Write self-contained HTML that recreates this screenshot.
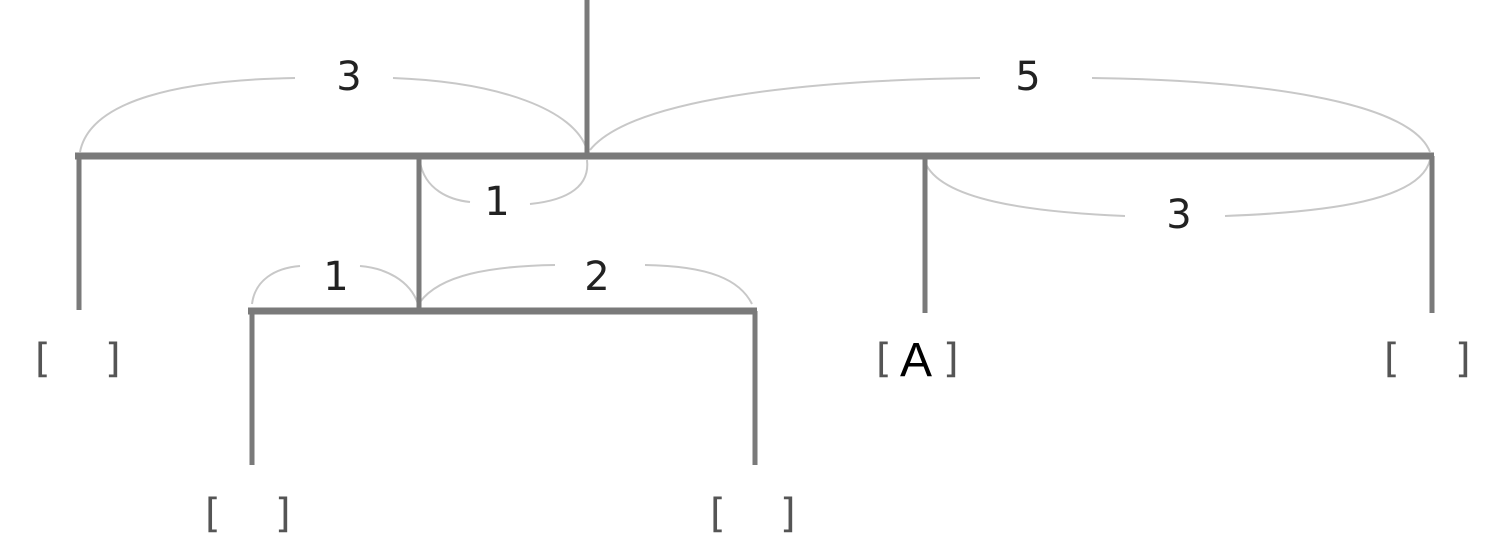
<!DOCTYPE html>
<html><head><style>
html,body{margin:0;padding:0;background:#fff;width:1506px;height:548px;overflow:hidden}
text{font-family:"DejaVu Sans","Liberation Sans",sans-serif;fill:#222}
</style></head><body>
<svg width="1506" height="548" viewBox="0 0 1506 548" xmlns="http://www.w3.org/2000/svg">
<g fill="none" stroke="#c8c8c8" stroke-width="2">
<path d="M80 152 C90 100 180 80 295 78"/>
<path d="M393 78 C500 82 575 110 587 150"/>
<path d="M590 150 C630 100 800 80 980 78"/>
<path d="M1092 78 C1250 80 1410 100 1430 152"/>
<path d="M420 162 C425 190 450 200 470 202"/>
<path d="M530 204 C570 200 590 185 587 160"/>
<path d="M925 162 C940 200 1030 212 1125 216"/>
<path d="M1225 216 C1330 212 1420 200 1430 160"/>
<path d="M252 304 C255 280 275 268 300 266"/>
<path d="M360 266 C385 268 410 280 418 304"/>
<path d="M420 302 C440 275 490 266 555 265"/>
<path d="M645 265 C710 266 740 280 752 304"/>
</g>
<g stroke="#7a7a7a" fill="none">
<line x1="587" y1="0" x2="587" y2="156" stroke-width="5"/>
<line x1="75" y1="156" x2="1434" y2="156" stroke-width="7"/>
<line x1="79" y1="156" x2="79" y2="310" stroke-width="5"/>
<line x1="419" y1="156" x2="419" y2="312" stroke-width="5"/>
<line x1="925" y1="156" x2="925" y2="313" stroke-width="5"/>
<line x1="1432" y1="156" x2="1432" y2="313" stroke-width="5"/>
<line x1="248" y1="311" x2="757" y2="311" stroke-width="7"/>
<line x1="252" y1="311" x2="252" y2="465" stroke-width="5"/>
<line x1="755" y1="311" x2="755" y2="465" stroke-width="5"/>
</g>
<g font-size="40" text-anchor="middle">
<text x="349" y="90">3</text>
<text x="1028" y="90">5</text>
<text x="497" y="215">1</text>
<text x="1179" y="228">3</text>
<text x="336" y="290">1</text>
<text x="597" y="290">2</text>
</g>
<g font-size="40" fill="#444">
<text x="35" y="372" style="fill:#555">[</text><text x="105" y="372" style="fill:#555">]</text>
<text x="876" y="372" style="fill:#555">[</text><text x="943" y="372" style="fill:#555">]</text>
<text x="900" y="376" style="fill:#000;font-family:'Liberation Sans',sans-serif" font-size="48">A</text>
<text x="1384" y="372" style="fill:#555">[</text><text x="1455" y="372" style="fill:#555">]</text>
<text x="205" y="527" style="fill:#555">[</text><text x="275" y="527" style="fill:#555">]</text>
<text x="710" y="527" style="fill:#555">[</text><text x="780" y="527" style="fill:#555">]</text>
</g>
</svg>
</body></html>
